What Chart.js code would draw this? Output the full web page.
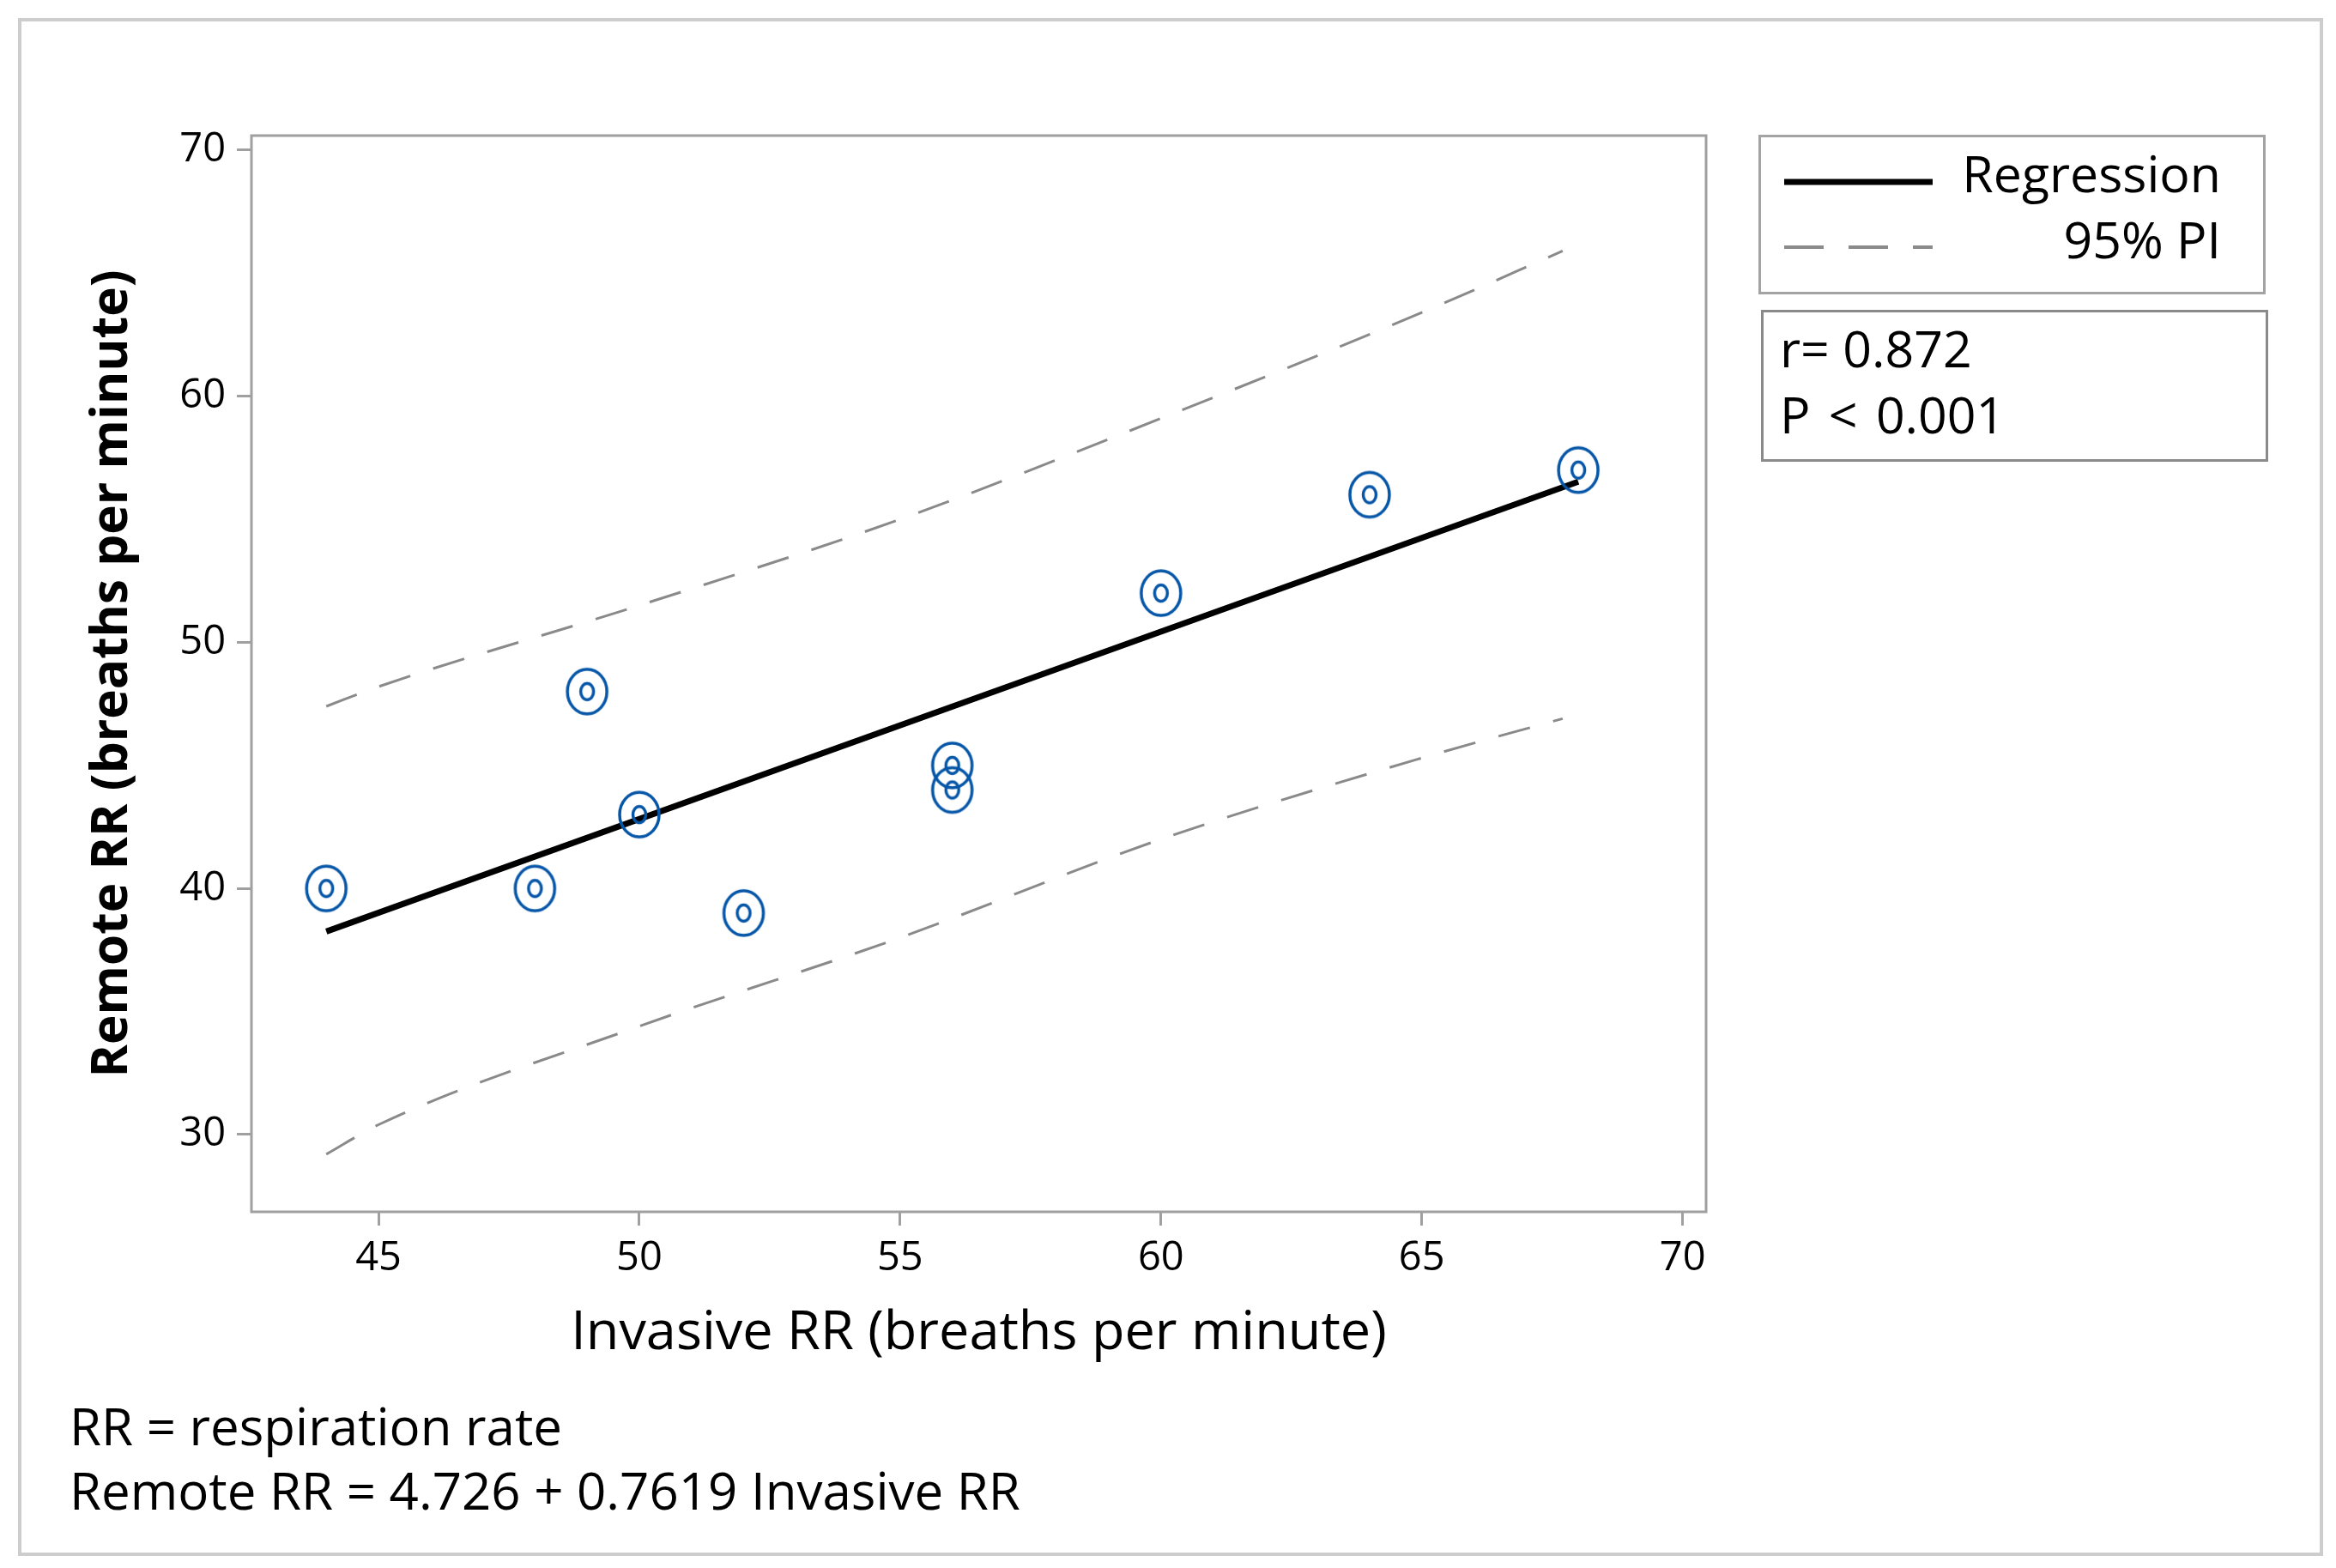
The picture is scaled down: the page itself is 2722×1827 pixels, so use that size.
<!DOCTYPE html>
<html>
<head>
<meta charset="utf-8">
<script src="https://cdn.jsdelivr.net/npm/chart.js@4"></script>
<style>
  html, body { margin: 0; padding: 0; background: #ffffff; }
  #wrap { position: relative; width: 2722px; height: 1827px; overflow: hidden; background: #fff; }
  #c { position: absolute; left: 0; top: 0; }
  .frame { position: absolute; box-sizing: border-box; }
  .txt { position: absolute; font-family: "Open Sans", sans-serif; line-height: 1; white-space: pre; color: #000; }
</style>
</head>
<body>
<div id="wrap">
  <canvas id="c" width="2722" height="1827"></canvas>
  <div class="frame" style="left:21px;top:21px;width:2686px;height:1792px;border:4px solid #cdcdcd;"></div>
  <div class="frame" style="left:2049px;top:157px;width:591px;height:186px;border:3px solid #a3a3a3;"></div>
  <div class="frame" style="left:2052px;top:361px;width:591px;height:177px;border:3px solid #8a8a8a;"></div>
  <svg style="position:absolute;left:0;top:0;" width="2722" height="1827">
    <line x1="2079" y1="212" x2="2252" y2="212" stroke="#000" stroke-width="7"/>
    <line x1="2079" y1="288" x2="2252" y2="288" stroke="#8a8a8a" stroke-width="4" stroke-dasharray="46 29"/>
  </svg>
  <div class="txt" id="lgReg" style="font-size:59px;right:134px;top:172px;">Regression</div>
  <div class="txt" id="lgPI" style="font-size:59px;right:134px;top:249px;">95% PI</div>
  <div class="txt" id="stR" style="font-size:59px;left:2074px;top:376px;">r= 0.872</div>
  <div class="txt" id="stP" style="font-size:59px;left:2074px;top:453px;word-spacing:6px;">P &lt; 0.001</div>
  <div class="txt" id="fn1" style="font-size:60px;left:81px;top:1631px;">RR = respiration rate</div>
  <div class="txt" id="fn2" style="font-size:60px;left:81px;top:1706px;">Remote RR = 4.726 + 0.7619 Invasive RR</div>
</div>
<script>
// ---- data ----
const obsX = [44, 48, 49, 50, 52, 56, 56, 60, 64, 68];          // Invasive RR
const obsY = [40, 40, 48, 43, 39, 45, 44, 52, 56, 57];          // Remote RR
const regX = [44, 68];                                          // regression line ends
const regY = [38.25, 56.53];
const piX = [44, 45, 50, 55, 60, 65, 67.7];                     // 95% prediction interval
const piUpper = [47.4, 48.2, 51.5, 55.0, 59.1, 63.4, 65.9];
const piLower = [29.2, 30.4, 34.4, 38.0, 42.0, 45.3, 46.9];
const xTicks = [45, 50, 55, 60, 65, 70];
const yTicks = [30, 40, 50, 60, 70];
const xTitle = 'Invasive RR (breaths per minute)';
const yTitle = 'Remote RR (breaths per minute)';

const pts = (xs, ys) => xs.map((x, i) => ({ x: x, y: ys[i] }));

// marker: Minitab-like double ring
const mk = document.createElement('canvas');
mk.width = 56; mk.height = 60;
(function () {
  const c = mk.getContext('2d');
  c.strokeStyle = '#0656a8';
  c.lineWidth = 3.5;
  c.beginPath(); c.ellipse(28, 30, 23, 26, 0, 0, Math.PI * 2); c.stroke();
  c.beginPath(); c.ellipse(28, 30, 7.5, 9.5, 0, 0, Math.PI * 2); c.stroke();
})();

const framePlugin = {
  id: 'frame',
  afterDraw(chart) {
    const a = chart.chartArea, ctx = chart.ctx;
    ctx.save();
    ctx.strokeStyle = '#a0a0a0';
    ctx.lineWidth = 3;
    ctx.strokeRect(a.left, a.top, a.right - a.left, a.bottom - a.top);
    ctx.restore();
  }
};

const tickFont = { family: 'Open Sans', size: 47 };

new Chart(document.getElementById('c'), {
  type: 'scatter',
  data: {
    datasets: [
      { label: 'Regression', data: pts(regX, regY), showLine: true, borderColor: '#000', borderWidth: 7,
        pointRadius: 0, fill: false, order: 2 },
      { label: '95% PI (upper)', data: pts(piX, piUpper), showLine: true, borderColor: '#8a8a8a', borderWidth: 3,
        borderDash: [38, 28], pointRadius: 0, cubicInterpolationMode: 'monotone', fill: false, order: 3 },
      { label: '95% PI (lower)', data: pts(piX, piLower), showLine: true, borderColor: '#8a8a8a', borderWidth: 3,
        borderDash: [38, 28], pointRadius: 0, cubicInterpolationMode: 'monotone', fill: false, order: 3 },
      { label: 'Observations', data: pts(obsX, obsY), pointStyle: mk, pointRadius: 26, order: 1,
        borderColor: '#0656a8', backgroundColor: '#0656a8' }
    ]
  },
  options: {
    responsive: false,
    animation: false,
    devicePixelRatio: 1,
    layout: { padding: { left: 96, top: 158, right: 734, bottom: 235 } },
    plugins: { legend: { display: false }, tooltip: { enabled: false } },
    scales: {
      x: {
        type: 'linear', min: 42.565, max: 70.45,
        afterBuildTicks: s => { s.ticks = xTicks.map(v => ({ value: v })); },
        afterFit: s => { s.height = 180; },
        ticks: { font: tickFont, color: '#000', padding: 10, maxRotation: 0 },
        grid: { drawOnChartArea: false, drawTicks: true, tickLength: 16, color: '#a0a0a0', lineWidth: 3 },
        border: { display: false },
        title: { display: true, text: xTitle, color: '#000', padding: 0,
                 font: { family: 'Open Sans', size: 63, lineHeight: 1.2 } }
      },
      y: {
        type: 'linear', min: 26.86, max: 70.59,
        afterBuildTicks: s => { s.ticks = yTicks.map(v => ({ value: v })); },
        afterFit: s => { s.width = 197; },
        ticks: { font: tickFont, color: '#000', padding: 13 },
        grid: { drawOnChartArea: false, drawTicks: true, tickLength: 17, color: '#a0a0a0', lineWidth: 3 },
        border: { display: false },
        title: { display: true, text: yTitle, color: '#000', padding: 0,
                 font: { family: 'Open Sans', size: 58.5, weight: 'bold', lineHeight: 1.2 } }
      }
    }
  },
  plugins: [framePlugin]
});
</script>
</body>
</html>
